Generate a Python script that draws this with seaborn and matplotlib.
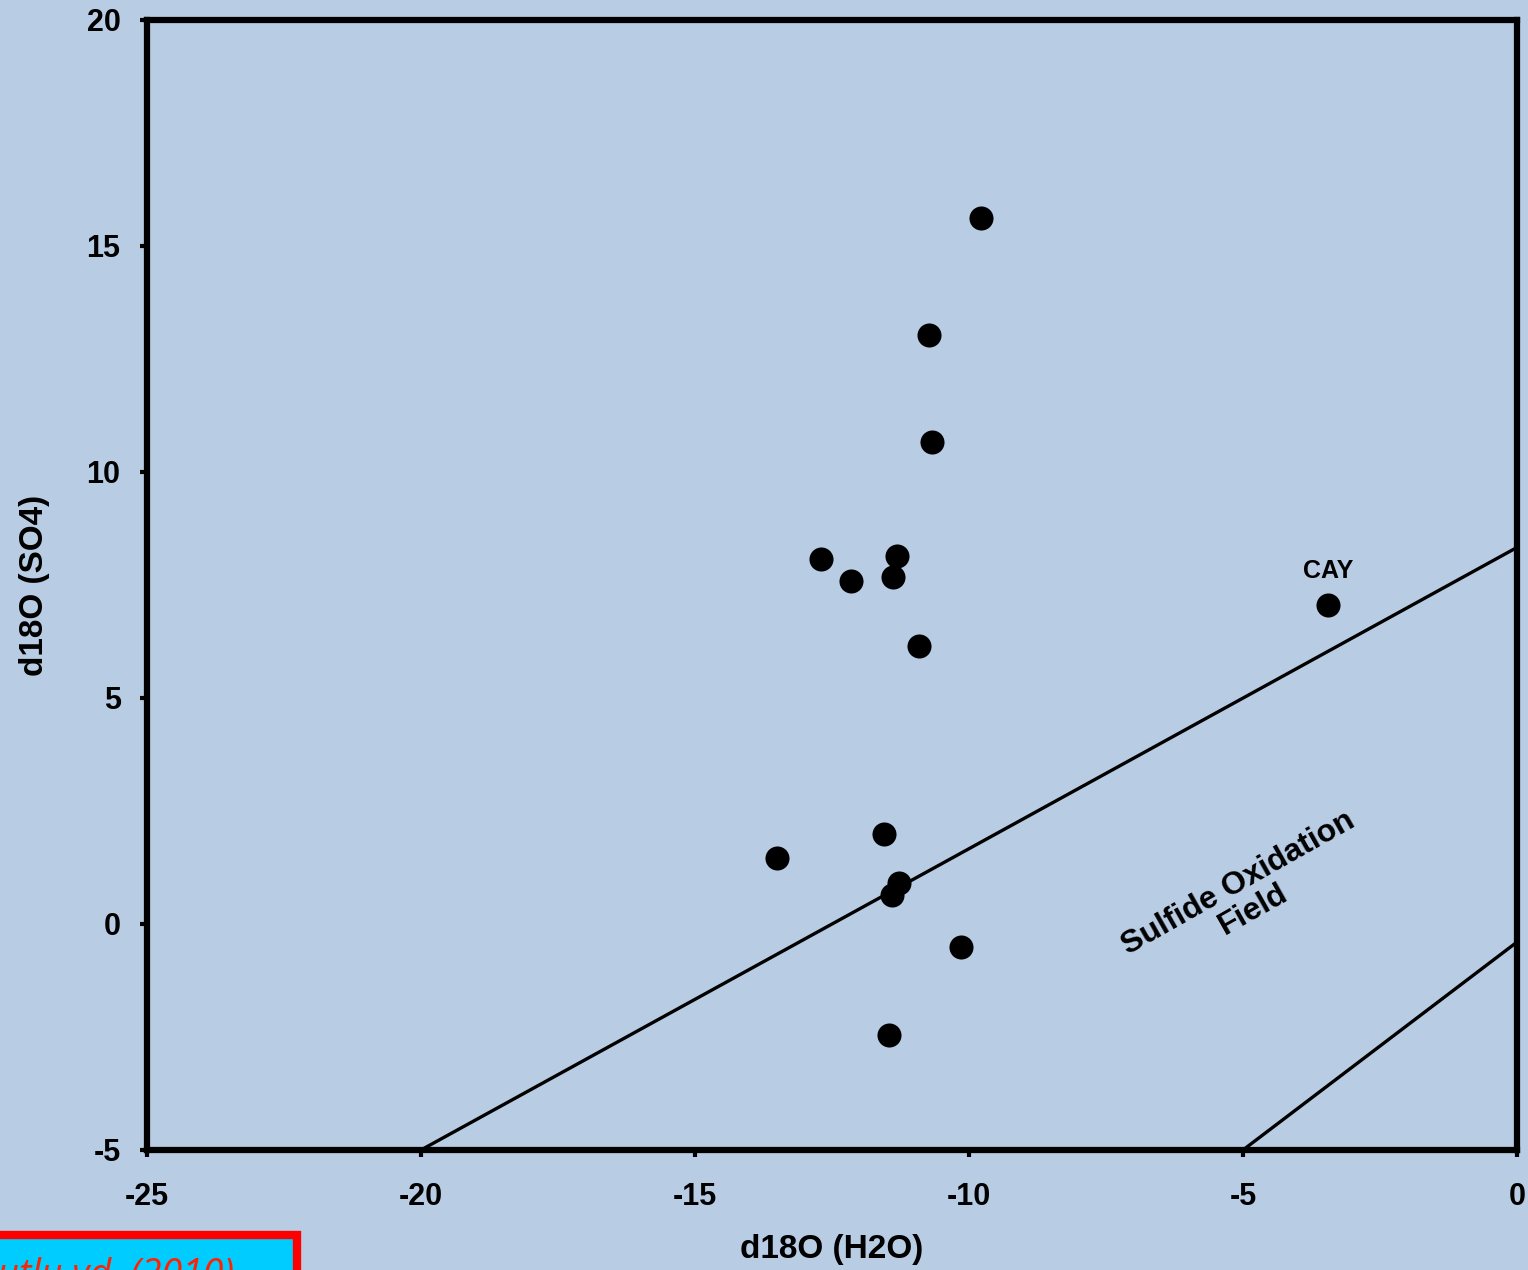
import matplotlib
matplotlib.use("Agg")
import matplotlib.pyplot as plt
import seaborn as sns
import pandas as pd
from matplotlib.patches import Rectangle

# sample points
h2o = [-9.78, -10.73, -10.68, -12.70, -11.31, -12.15, -11.39, -10.91, -3.45,
       -11.55, -13.50, -11.28, -11.41, -10.15, -11.46]
so4 = [15.61, 13.04, 10.67, 8.08, 8.14, 7.59, 7.68, 6.15, 7.06,
       2.00, 1.47, 0.90, 0.65, -0.52, -2.45]

# sulfide oxidation field boundaries
upper_x = [-20, 0]
upper_y = [-5, 8.33]
lower_x = [-5, 0]
lower_y = [-5, -0.4]

x_ticks = [-25, -20, -15, -10, -5, 0]
y_ticks = [-5, 0, 5, 10, 15, 20]

bg = "#B8CCE4"

sns.set_theme(style="white")
plt.rcParams["font.family"] = ["Liberation Sans", "DejaVu Sans"]
plt.rcParams["font.weight"] = "bold"
plt.rcParams["text.color"] = "black"
plt.rcParams["axes.labelcolor"] = "black"
plt.rcParams["xtick.color"] = "black"
plt.rcParams["ytick.color"] = "black"

fig = plt.figure(figsize=(15.28, 12.70), dpi=100, facecolor=bg)
ax = fig.add_axes([0.0962, 0.0945, 0.8966, 0.8898])
ax.set_facecolor(bg)

pts = pd.DataFrame({"h2o": h2o, "so4": so4})
sns.scatterplot(data=pts, x="h2o", y="so4", ax=ax, color="black", s=300,
                edgecolor="black", linewidth=0, zorder=3)

sns.lineplot(x=upper_x, y=upper_y, ax=ax, color="black", linewidth=2.4,
             estimator=None, zorder=2)
sns.lineplot(x=lower_x, y=lower_y, ax=ax, color="black", linewidth=2.4,
             estimator=None, zorder=2)

ax.set_xlim(-25, 0)
ax.set_ylim(-5, 20)
ax.set_xticks(x_ticks)
ax.set_yticks(y_ticks)
ax.set_xticklabels([str(t) for t in x_ticks], fontsize=22, fontweight="bold")
ax.set_yticklabels([str(t) for t in y_ticks], fontsize=22, fontweight="bold")
ax.tick_params(axis="both", direction="out", length=5, width=3, color="black",
               labelcolor="black", bottom=True, left=True)
ax.tick_params(axis="x", pad=18)
ax.tick_params(axis="y", pad=14)

for sp in ax.spines.values():
    sp.set_visible(True)
    sp.set_color("black")
    sp.set_linewidth(4.5)

ax.set_xlabel("d18O (H2O)", fontsize=24, fontweight="bold", labelpad=16,
              color="black")
ax.set_ylabel("d18O (SO4)", fontsize=24, fontweight="bold", labelpad=26,
              color="black")

ax.text(-3.45, 7.55, "CAY", fontsize=18, fontweight="bold", ha="center",
        va="bottom", color="black")
ax.text(-4.95, 0.6, "Sulfide Oxidation\nField", fontsize=23,
        fontweight="bold", ha="center", va="center", rotation=29.5,
        linespacing=1.0, rotation_mode="anchor", color="black")

# citation box in the lower left corner (partly cut off)
fig.patches.append(Rectangle((-0.01, -0.05), 0.2045, 0.0775,
                             transform=fig.transFigure, facecolor="#00CCFF",
                             edgecolor="#FF0000", linewidth=6, zorder=5))
fig.text(0.153, -0.012, "Mutlu vd. (2010)", fontsize=27, style="italic",
         fontweight="normal", color="#FF2200", ha="right", va="baseline",
         family=["Open Sans", "DejaVu Sans"], zorder=6)

fig.savefig("out.png", dpi=100, facecolor=bg)
